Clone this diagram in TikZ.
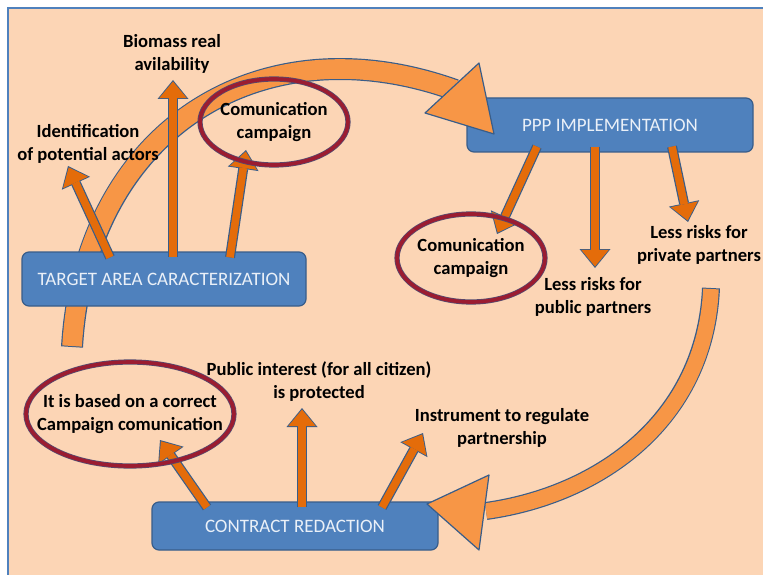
\documentclass[tikz,border=0pt]{standalone}
\usepackage{fontspec}
\setmainfont{Carlito}
\usetikzlibrary{arrows.meta,shapes.geometric}
\definecolor{peach}{HTML}{FCD5B5}
\definecolor{boxblue}{HTML}{4F81BD}
\definecolor{boxline}{HTML}{385D8A}
\definecolor{arcorange}{HTML}{F79646}
\definecolor{arroworange}{HTML}{E46C0A}
\definecolor{ringred}{HTML}{9B1C31}
\definecolor{boxtext}{HTML}{EAF0F8}
\begin{document}
\begin{tikzpicture}[x=1pt,y=-1pt,
    phase/.style={draw=boxline,line width=1.2pt,fill=boxblue,rounded corners=7pt,
      text=boxtext,font=\fontsize{19}{23}\selectfont},
    note/.style={align=center,inner sep=0pt,font=\fontsize{18.6}{23}\selectfont\bfseries},
    ring/.style={note,ellipse,draw=boxline!70!ringred,double=ringred,
      double distance=3.6pt,line width=0.8pt},
    outerarrow/.style={line width=10pt,draw=boxline,
      -{Triangle[width=31pt,length=19pt,line width=0pt]}},
    innerarrow/.style={line width=7.6pt,draw=arroworange,shorten >=1.6pt,
      -{Triangle[width=27.5pt,length=16.5pt,line width=0pt]}},
    bandline/.style={line width=#1,draw=boxline},
    bandfill/.style={line width=#1,draw=arcorange,shorten <=1pt},
    bandhead/.style={fill=arcorange,draw=boxline,line width=1.2pt,line join=round}]
        % page and frame
        \useasboundingbox (0,0) rectangle (763,575);
        \fill [white] (0,0) rectangle (763,575);
        \fill [peach] (9,9) rectangle (763,575);
        \draw [boxblue,line width=2.5pt] (8,575) -- (8,8) -- (763,8);

        % the two big curved arrows, bands first
        \draw [bandline=22pt] (72,347) .. controls (85,130) and (260,20) .. (455,90);
        \draw [bandfill=19.6pt] (72,347) .. controls (85,130) and (260,20) .. (455,90);
        \draw [bandline=18pt] (711,288) .. controls (705,420) and (600,495) .. (486,511);
        \draw [bandfill=15.6pt] (711,288) .. controls (705,420) and (600,495) .. (486,511);

        % the three phases
        \node [phase,minimum width=284pt,minimum height=54pt] (target) at (164,279) {TARGET AREA CARACTERIZATION};
        \node [phase,minimum width=286pt,minimum height=54pt] (ppp) at (610,125) {PPP IMPLEMENTATION};
        \node [phase,minimum width=286pt,minimum height=48pt] (contract) at (295,526) {CONTRACT REDACTION};

        % heads of the big arrows
        \filldraw [bandhead] (479,63) -- (425,113) -- (494,134) -- cycle;
        \filldraw [bandhead] (489,475) -- (479,550) -- (427,504) -- cycle;

        % labels
        \node [note] (biomass) at (172,54) {Biomass real\\avilability};
        \node [note] (actors) at (88,144) {Identification\\of potential actors};
        \node [note] (riskpriv) at (699,245) {Less risks for\\private partners};
        \node [note] (riskpub) at (593,297) {Less risks for\\public partners};
        \node [note] (interest) at (319,382) {Public interest (for all citizen)\\is protected};
        \node [note] (instrument) at (502,428) {Instrument to regulate\\partnership};

        % start and tip of each small arrow
        \coordinate (t1) at ([xshift=-54pt,yshift=-6pt]target.north);
        \coordinate (t2) at ([xshift=9pt,yshift=-6pt]target.north);
        \coordinate (t3) at ([xshift=66pt,yshift=-6pt]target.north);
        \coordinate (p1) at ([xshift=-73pt,yshift=6pt]ppp.south);
        \coordinate (p2) at ([xshift=-15pt,yshift=6pt]ppp.south);
        \coordinate (p3) at ([xshift=62pt,yshift=6pt]ppp.south);
        \coordinate (c1) at ([xshift=-88pt,yshift=-6pt]contract.north);
        \coordinate (c2) at ([xshift=7pt,yshift=-6pt]contract.north);
        \coordinate (c3) at ([xshift=87pt,yshift=-6pt]contract.north);
        \coordinate (actorstip) at (68,166);
        \coordinate (biomasstip) at (173,80);
        \coordinate (campaigntipA) at (246,150);
        \coordinate (campaigntipB) at (497,234);
        \coordinate (riskpubtip) at (595,268);
        \coordinate (riskprivtip) at (688,222);
        \coordinate (basedtip) at (160,440);
        \coordinate (interesttip) at (302,408);
        \coordinate (instrumenttip) at (423,433);
        \foreach \s/\t in {t1/actorstip,t2/biomasstip,t3/campaigntipA,
            p1/campaigntipB,p2/riskpubtip,p3/riskprivtip,
            c1/basedtip,c2/interesttip,c3/instrumenttip}{
            \draw [outerarrow] (\s) -- (\t);
            \draw [innerarrow] (\s) -- (\t);
        }

        % ringed labels
        \node [ring,inner xsep=-8pt,minimum width=148pt,minimum height=86pt] (campaignA) at (274,122) {Comunication\\campaign};
        \node [ring,inner xsep=-8pt,minimum width=148pt,minimum height=88pt] (campaignB) at (471,258) {Comunication\\campaign};
        \node [ring,inner xsep=-26pt,minimum width=208pt,minimum height=104pt] (based) at (130,414) {It is based on a correct\\Campaign comunication};
\end{tikzpicture}
\end{document}
